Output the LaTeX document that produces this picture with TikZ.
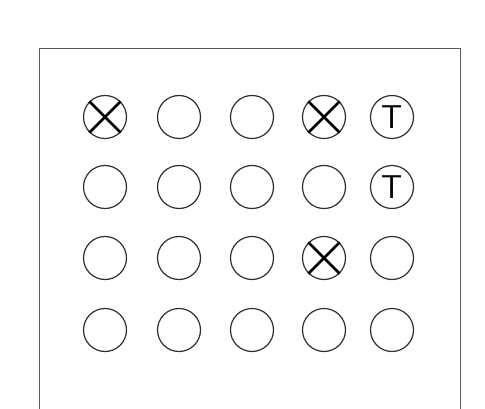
\documentclass[tikz,border=0pt]{standalone}
\definecolor{PLATEgray}{HTML}{5A5A5A}
\definecolor{HOLEink}{HTML}{2E2E2E}
\usetikzlibrary{calc}

\tikzset{
   slot/.style={circle, draw=HOLEink, line width=1.2pt, minimum size=43pt, inner sep=0pt},
   xline/.style={black, line width=2.6pt},
   tlabel/.style={inner sep=0pt, font=\sffamily\fontsize{33}{33}\selectfont}
}

\begin{document}
\begin{tikzpicture}[x=1pt, y=-1pt]
            \useasboundingbox (0,0) rectangle (485,409);
            % Plate (bottom edge runs off the page)
            \draw[PLATEgray, line width=1pt] (39,409) -- (39,49) -- (460,49) -- (460,409);
            % Grid of holes
            \foreach \c/\x in {1/105, 2/179, 3/252, 4/324, 5/392} {
               \foreach \r/\y in {1/117, 2/187, 3/258, 4/330} {
                  \node[slot] (h\r\c) at (\x,\y) {};
               }
            }
            % Crossed holes
            \foreach \h in {h11, h14, h34} {
               \draw[xline] (\h.north west) -- (\h.south east);
               \draw[xline] (\h.north east) -- (\h.south west);
            }
            % T marks
            \node[tlabel] (t15) at (h15) {T};
            \node[tlabel] (t25) at (h25) {T};
         \end{tikzpicture}
\end{document}
